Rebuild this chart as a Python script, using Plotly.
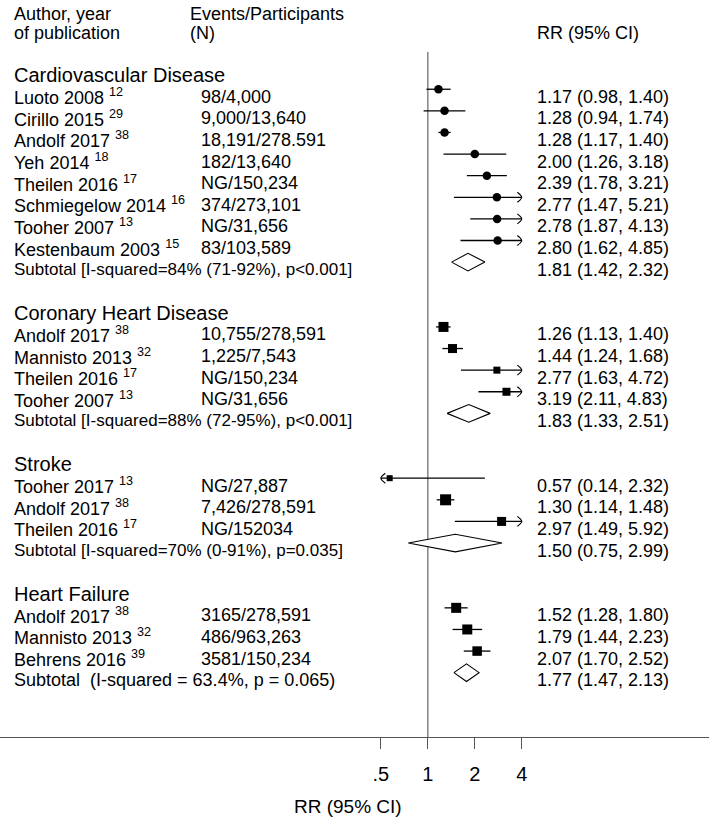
import math
import plotly.graph_objects as go

# ---------------- data ----------------
group_names = ["Cardiovascular Disease", "Coronary Heart Disease", "Stroke", "Heart Failure"]

cvd_authors = ["Luoto 2008", "Cirillo 2015", "Andolf 2017", "Yeh 2014", "Theilen 2016",
               "Schmiegelow 2014", "Tooher 2007", "Kestenbaum 2003"]
cvd_refs = ["12", "29", "38", "18", "17", "16", "13", "15"]
cvd_events = ["98/4,000", "9,000/13,640", "18,191/278.591", "182/13,640", "NG/150,234",
              "374/273,101", "NG/31,656", "83/103,589"]
cvd_rr = [1.17, 1.28, 1.28, 2.00, 2.39, 2.77, 2.78, 2.80]
cvd_lo = [0.98, 0.94, 1.17, 1.26, 1.78, 1.47, 1.87, 1.62]
cvd_hi = [1.40, 1.74, 1.40, 3.18, 3.21, 5.21, 4.13, 4.85]
cvd_sub_label = "Subtotal [I-squared=84% (71-92%), p<0.001]"
cvd_sub = [1.81, 1.42, 2.32]

chd_authors = ["Andolf 2017", "Mannisto 2013", "Theilen 2016", "Tooher 2007"]
chd_refs = ["38", "32", "17", "13"]
chd_events = ["10,755/278,591", "1,225/7,543", "NG/150,234", "NG/31,656"]
chd_rr = [1.26, 1.44, 2.77, 3.19]
chd_lo = [1.13, 1.24, 1.63, 2.11]
chd_hi = [1.40, 1.68, 4.72, 4.83]
chd_sub_label = "Subtotal [I-squared=88% (72-95%), p<0.001]"
chd_sub = [1.83, 1.33, 2.51]

stroke_authors = ["Tooher 2017", "Andolf 2017", "Theilen 2016"]
stroke_refs = ["13", "38", "17"]
stroke_events = ["NG/27,887", "7,426/278,591", "NG/152034"]
stroke_rr = [0.57, 1.30, 2.97]
stroke_lo = [0.14, 1.14, 1.49]
stroke_hi = [2.32, 1.48, 5.92]
stroke_sub_label = "Subtotal [I-squared=70% (0-91%), p=0.035]"
stroke_sub = [1.50, 0.75, 2.99]

hf_authors = ["Andolf 2017", "Mannisto 2013", "Behrens 2016"]
hf_refs = ["38", "32", "39"]
hf_events = ["3165/278,591", "486/963,263", "3581/150,234"]
hf_rr = [1.52, 1.79, 2.07]
hf_lo = [1.28, 1.44, 1.70]
hf_hi = [1.80, 2.23, 2.52]
hf_sub_label = "Subtotal  (I-squared = 63.4%, p = 0.065)"
hf_sub = [1.77, 1.47, 2.13]

tick_vals = [0.5, 1, 2, 4]
tick_text = [".5", "1", "2", "4"]

# ---------------- styles ----------------
FONT = "Liberation Sans, Arial, Helvetica, sans-serif"
W, H = 709, 820
AXIS_Y = 736.7          # pixel row of the x axis line
ROW0 = 67.6             # pixel of row 0 marker
ROWH = 21.6             # pixel per row
TXT_SHIFT = -7.5        # text sits a bit below the markers
PX_PER_DOUBLING = 47.0
X_ONE = 427.8
CLIP_LO, CLIP_HI = 0.5, 4.0

marker_styles = [
    ("circle", [8.5] * 8),
    ("square", [10, 9, 7, 8]),
    ("square", [6, 11, 9]),
    ("square", [10, 10, 9.5]),
]
sub_font_sizes = [17, 17, 17, 18]

groups = [
    (cvd_authors, cvd_refs, cvd_events, cvd_rr, cvd_lo, cvd_hi, cvd_sub_label, cvd_sub),
    (chd_authors, chd_refs, chd_events, chd_rr, chd_lo, chd_hi, chd_sub_label, chd_sub),
    (stroke_authors, stroke_refs, stroke_events, stroke_rr, stroke_lo, stroke_hi, stroke_sub_label, stroke_sub),
    (hf_authors, hf_refs, hf_events, hf_rr, hf_lo, hf_hi, hf_sub_label, hf_sub),
]

# x range (log10) so that 1 sits at X_ONE and one doubling = PX_PER_DOUBLING px
l2 = math.log10(2)
x_range = [(-X_ONE / PX_PER_DOUBLING) * l2, ((W - X_ONE) / PX_PER_DOUBLING) * l2]
y_top = (0 - ROW0) / ROWH
y_bot = (AXIS_Y - ROW0) / ROWH

fig = go.Figure()
annos = []


def txt(xpx, row, s, size=18, shift=TXT_SHIFT):
    annos.append(dict(x=xpx / W, xref="paper", y=row, yref="y", text=s, showarrow=False,
                      xanchor="left", yanchor="middle", yshift=shift,
                      font=dict(family=FONT, size=size, color="black")))


# headers
txt(12, -2.84, "Author, year")
txt(12, -1.96, "of publication")
txt(188, -2.84, "Events/Participants")
txt(188, -1.96, "(N)")
txt(535, -1.94, "RR (95% CI)")

# reference line at 1
fig.add_trace(go.Scatter(x=[1, 1], y=[-0.72, y_bot], mode="lines",
                         line=dict(color="#8a8a8a", width=1.6), hoverinfo="skip", showlegend=False))

ax_dx = 4.5 / PX_PER_DOUBLING   # arrow head length in log2 units
ax_dy = 5.0 / ROWH              # arrow head half height in rows

row = 0
for gi, (auth, refs, ev, rr, lo, hi, sub_label, sub) in enumerate(groups):
    txt(12, row, group_names[gi], size=20)
    row += 1
    sym, sizes = marker_styles[gi]
    for i in range(len(auth)):
        txt(12, row, f"{auth[i]} <sup>{refs[i]}</sup>")
        txt(199, row, ev[i])
        txt(535, row, f"{rr[i]:.2f} ({lo[i]:.2f}, {hi[i]:.2f})")
        a = max(lo[i], CLIP_LO)
        b = min(hi[i], CLIP_HI)
        fig.add_trace(go.Scatter(x=[a, b], y=[row, row], mode="lines",
                                 line=dict(color="black", width=1.3),
                                 hoverinfo="skip", showlegend=False))
        for clipped, tip, sgn in ((hi[i] > CLIP_HI, CLIP_HI, -1), (lo[i] < CLIP_LO, CLIP_LO, 1)):
            if clipped:
                back = tip * 2 ** (sgn * ax_dx)
                mid = tip * 2 ** (sgn * ax_dx * 0.35)
                fig.add_trace(go.Scatter(x=[back, mid, tip, mid, back],
                                         y=[row - ax_dy, row - ax_dy * 0.5, row, row + ax_dy * 0.5, row + ax_dy],
                                         mode="lines", line=dict(color="black", width=1.1, shape="spline"),
                                         hoverinfo="skip", showlegend=False))
        fig.add_trace(go.Scatter(x=[rr[i]], y=[row], mode="markers",
                                 marker=dict(symbol=sym, size=sizes[i], color="black",
                                             line=dict(width=0)),
                                 hoverinfo="skip", showlegend=False))
        row += 1
    # subtotal
    txt(12, row, sub_label, size=sub_font_sizes[gi])
    txt(535, row, f"{sub[0]:.2f} ({sub[1]:.2f}, {sub[2]:.2f})")
    hh = 8.8 / ROWH
    fig.add_trace(go.Scatter(x=[sub[1], sub[0], sub[2], sub[0], sub[1]],
                             y=[row, row - hh, row, row + hh, row],
                             mode="lines", fill="toself", fillcolor="white",
                             line=dict(color="black", width=1.1),
                             hoverinfo="skip", showlegend=False))
    row += 2

# axis title
annos.append(dict(x=348 / W, xref="paper", y=(AXIS_Y - 806) / AXIS_Y, yref="paper",
                  text="RR (95% CI)", showarrow=False, xanchor="center", yanchor="middle",
                  font=dict(family=FONT, size=19, color="black")))

fig.update_layout(
    width=W, height=H,
    margin=dict(l=0, r=0, t=0, b=H - AXIS_Y),
    paper_bgcolor="white", plot_bgcolor="white",
    showlegend=False,
    annotations=annos,
    font=dict(family=FONT, color="black"),
    xaxis=dict(type="log", range=x_range, showgrid=False, zeroline=False,
               showline=True, linecolor="#555555", linewidth=1.3,
               ticks="outside", ticklen=11, tickwidth=1.3, tickcolor="#555555",
               tickvals=tick_vals, ticktext=tick_text, ticklabelstandoff=8,
               tickfont=dict(family=FONT, size=20, color="black"),
               fixedrange=True),
    yaxis=dict(range=[y_bot, y_top], showgrid=False, zeroline=False, showline=False,
               showticklabels=False, ticks="", fixedrange=True),
)

fig.write_html("out.html", config={"displayModeBar": False},
               post_script="document.body.style.margin='0';document.body.style.overflow='hidden';")
